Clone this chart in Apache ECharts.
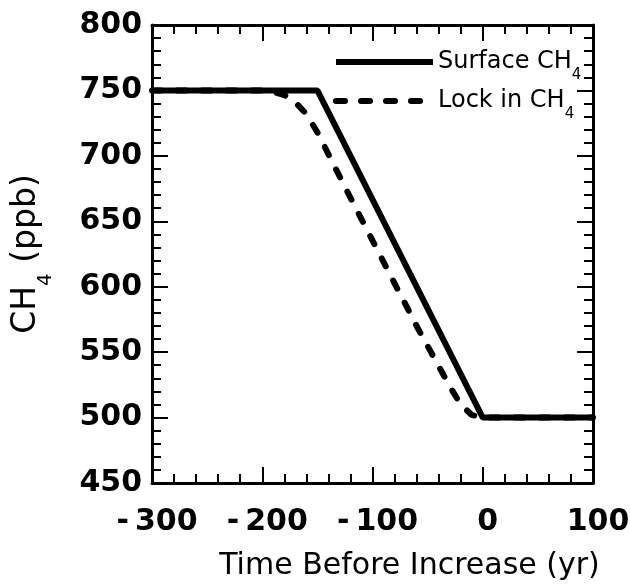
<!DOCTYPE html>
<html>
<head>
<meta charset="utf-8">
<script src="https://cdn.jsdelivr.net/npm/echarts@6/dist/echarts.min.js"></script>
<style>html,body{margin:0;padding:0;background:#fff}#c{width:630px;height:588px}</style>
</head>
<body>
<div id="c"></div>
<script>
// ---- data ----
const surfaceYears = [-300, -150, 0, 100];
const surfaceCH4   = [750, 750, 500, 500];
const lockYears = [-300, -200, -190, -180, -170, -160, -150, -120, -60, -30, -20, -10, 0, 100];
const lockCH4   = [750, 750, 749, 746.5, 741, 732, 718, 668, 570, 524, 510, 502, 500, 500];
const xTicks = [-300, -200, -100, 0, 100];
const yTicks = [450, 500, 550, 600, 650, 700, 750, 800];
const seriesNames = ['Surface CH4', 'Lock in CH4'];

const zip = (a, b) => a.map((v, i) => [v, b[i]]);
const TITLE_FONT = 'DejaVu Sans';
const TICK_FONT = 'DejaVu Sans';

function tickFmt(v) {
  const s = String(v);
  return s.startsWith('-') ? '-\u2009' + s.slice(1) : s;
}
function legendFmt(name) {
  return '{a|' + name.replace(/4$/, '') + '}{s|4}';
}
const legendRich = {
  a: { fontFamily: TITLE_FONT, fontSize: 24, color: '#000' },
  s: { fontFamily: TITLE_FONT, fontSize: 15, color: '#000', padding: [26, 0, 0, 0] }
};
const axisLineStyle = { onZero: false, lineStyle: { color: '#000', width: 3 } };
const tickStyle = { inside: true, length: 16, lineStyle: { color: '#000', width: 2 } };
const minorStyle = (n) => ({ show: true, splitNumber: n, length: 9, lineStyle: { color: '#000', width: 2 } });
const legendBase = {
  orient: 'vertical', left: 333, padding: 0,
  itemWidth: 97, itemHeight: 20, itemGap: 5,
  lineStyle: { width: 6 }, itemStyle: { opacity: 0 }, formatter: legendFmt,
  textStyle: { rich: legendRich }
};

const chart = echarts.init(document.getElementById('c'), null, { renderer: 'canvas' });
chart.setOption({
  backgroundColor: '#fff',
  animation: false,
  grid: { left: 152, right: 37, top: 25, bottom: 105, containLabel: false, outerBoundsMode: 'none' },
  legend: [
    Object.assign({}, legendBase, { data: [seriesNames[0]], top: 50 }),
    Object.assign({}, legendBase, { data: [seriesNames[1]], top: 89 })
  ],
  xAxis: [
    {
      type: 'value', position: 'bottom', min: xTicks[0], max: xTicks[xTicks.length - 1], interval: 100,
      axisLine: axisLineStyle, axisTick: tickStyle, minorTick: minorStyle(5), splitLine: { show: false },
      axisLabel: { formatter: tickFmt, fontFamily: TICK_FONT, fontWeight: 'bold', fontSize: 30, color: '#000', margin: 24, padding: [0, 0, 0, 10] },
      name: 'Time Before Increase (yr)', nameLocation: 'middle', nameGap: 68,
      nameTextStyle: { fontFamily: TITLE_FONT, fontSize: 30, color: '#000', padding: [0, 0, 0, 74] }
    },
    {
      type: 'value', position: 'top', min: xTicks[0], max: xTicks[xTicks.length - 1], interval: 100,
      axisLine: axisLineStyle, axisTick: tickStyle, minorTick: minorStyle(5), splitLine: { show: false },
      axisLabel: { show: false }
    }
  ],
  yAxis: [
    {
      type: 'value', position: 'left', min: yTicks[0], max: yTicks[yTicks.length - 1], interval: 50,
      axisLine: axisLineStyle, axisTick: tickStyle, minorTick: minorStyle(5), splitLine: { show: false },
      axisLabel: { formatter: tickFmt, fontFamily: TICK_FONT, fontWeight: 'bold', fontSize: 30, color: '#000', margin: 10 },
      name: '{a|CH}{s|4}{a| (ppb)}', nameLocation: 'middle', nameGap: 96,
      nameTextStyle: {
        rich: {
          a: { fontFamily: TITLE_FONT, fontSize: 33, color: '#000' },
          s: { fontFamily: TITLE_FONT, fontSize: 20, color: '#000', padding: [40, 0, 0, 0] }
        }
      }
    },
    {
      type: 'value', position: 'right', min: yTicks[0], max: yTicks[yTicks.length - 1], interval: 50,
      axisLine: axisLineStyle, axisTick: tickStyle, minorTick: minorStyle(5), splitLine: { show: false },
      axisLabel: { show: false }
    }
  ],
  series: [
    {
      name: seriesNames[1], type: 'line', data: zip(lockYears, lockCH4), symbol: 'none', z: 2,
      lineStyle: { color: '#000', width: 6, type: [9, 16], cap: 'round' }, itemStyle: { color: '#000' }
    },
    {
      name: seriesNames[0], type: 'line', data: zip(surfaceYears, surfaceCH4), symbol: 'none', z: 3,
      lineStyle: { color: '#000', width: 6, type: 'solid' }, itemStyle: { color: '#000' }
    }
  ]
});
</script>
</body>
</html>
